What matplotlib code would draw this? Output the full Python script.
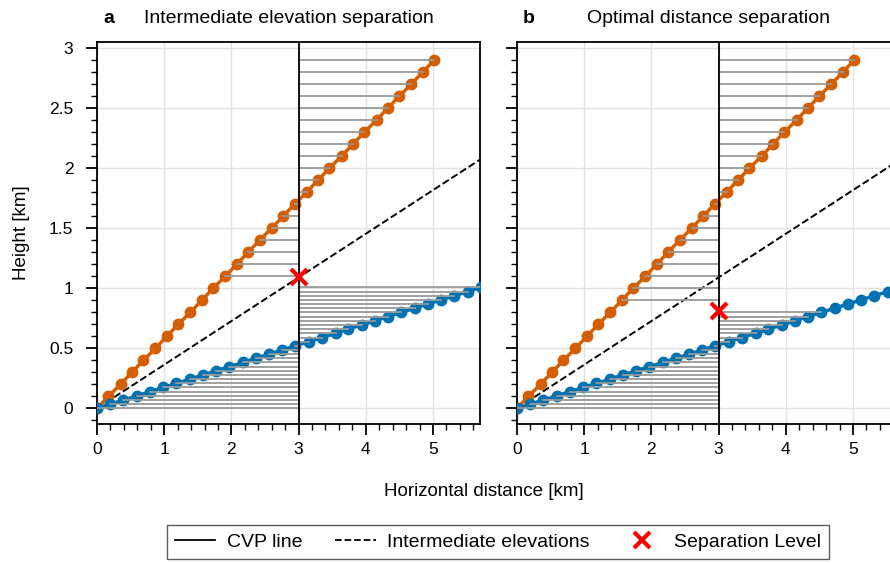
import numpy as np
import matplotlib
matplotlib.use("Agg")
import matplotlib.pyplot as plt
import matplotlib.ticker as mticker
from matplotlib.lines import Line2D

plt.rcParams['font.family'] = ['Liberation Sans', 'DejaVu Sans']
plt.rcParams['font.size'] = 13.5

# high elevation beam (orange)
orange_x = [0.00, 0.17, 0.35, 0.52, 0.69, 0.87, 1.04, 1.21, 1.39, 1.56,
            1.73, 1.91, 2.08, 2.25, 2.42, 2.60, 2.77, 2.94, 3.12, 3.29,
            3.46, 3.64, 3.81, 3.98, 4.16, 4.33, 4.50, 4.68, 4.85, 5.02]
orange_h = [0.0, 0.1, 0.2, 0.3, 0.4, 0.5, 0.6, 0.7, 0.8, 0.9,
            1.0, 1.1, 1.2, 1.3, 1.4, 1.5, 1.6, 1.7, 1.8, 1.9,
            2.0, 2.1, 2.2, 2.3, 2.4, 2.5, 2.6, 2.7, 2.8, 2.9]

# low elevation beam (blue)
blue_x = [0.00, 0.20, 0.39, 0.59, 0.79, 0.98, 1.18, 1.38, 1.58, 1.77,
          1.97, 2.17, 2.36, 2.56, 2.76, 2.95, 3.15, 3.35, 3.55, 3.74,
          3.94, 4.14, 4.33, 4.53, 4.73, 4.92, 5.12, 5.32, 5.52, 5.71]
blue_h = [0.000, 0.035, 0.069, 0.104, 0.139, 0.174, 0.208, 0.243, 0.278, 0.313,
          0.347, 0.382, 0.417, 0.451, 0.486, 0.521, 0.556, 0.590, 0.625, 0.660,
          0.695, 0.729, 0.764, 0.799, 0.834, 0.868, 0.903, 0.938, 0.972, 1.007]

# intermediate elevation (dashed)
mid_x = [0.0, 6.0]
mid_h = [0.0, 2.18]

cvp_x = 3.0
sep_levels = [1.09, 0.81]
panel_labels = ['a', 'b']
titles = ['Intermediate elevation separation', 'Optimal distance separation']

c_orange = '#d55e00'
c_blue = '#0072b2'
c_grey = '#999999'

fig = plt.figure(figsize=(8.9, 5.63), dpi=100)
ax_a = fig.add_axes([97/890, 1 - 424/563, 383/890, 382/563])
ax_b = fig.add_axes([517/890, 1 - 424/563, 383/890, 382/563])

for i, ax in enumerate([ax_a, ax_b]):
    sep = sep_levels[i]
    ax.grid(True, which='major', color='#e2e2e2', lw=1.0, zorder=0)
    ax.set_axisbelow(True)

    ax.plot(mid_x, mid_h, ls='--', color='black', lw=1.4, zorder=2)
    ax.plot(orange_x, orange_h, '-o', color=c_orange, lw=2.5, ms=7.5, zorder=3)
    ax.plot(blue_x, blue_h, '-o', color=c_blue, lw=2.5, ms=7.5, zorder=3)

    # projections onto the CVP line
    for x, h in zip(orange_x, orange_h):
        if h > sep:
            ax.plot([min(x, cvp_x), max(x, cvp_x)], [h, h], color=c_grey, lw=1.3, zorder=4)
    for x, h in zip(blue_x, blue_h):
        if h < sep:
            ax.plot([min(x, cvp_x), max(x, cvp_x)], [h, h], color=c_grey, lw=1.3, zorder=4)

    ax.axvline(cvp_x, color='black', lw=1.3, zorder=5)
    ax.plot([cvp_x], [sep], marker='x', color='#ff0000', ms=11, mew=3, ls='none', zorder=6)

    ax.set_xlim(0, 5.7)
    ax.set_ylim(-0.13, 3.05)
    ax.xaxis.set_major_locator(mticker.MultipleLocator(1))
    ax.xaxis.set_minor_locator(mticker.MultipleLocator(0.2))
    ax.yaxis.set_major_locator(mticker.MultipleLocator(0.5))
    ax.yaxis.set_minor_locator(mticker.MultipleLocator(0.1))
    ax.yaxis.set_major_formatter(mticker.FuncFormatter(lambda v, p: f'{v:g}'))
    ax.tick_params(which='major', direction='out', length=8, width=1.3, pad=5, labelsize=12.5)
    ax.tick_params(axis='y', which='major', pad=9)
    ax.tick_params(which='minor', direction='out', length=4, width=1.0)
    for s in ax.spines.values():
        s.set_linewidth(1.3)

    ax.text(6/383, 1.062, panel_labels[i], transform=ax.transAxes, fontweight='bold',
            fontsize=14, ha='left', va='center')
    ax.text(0.5, 1.062, titles[i], transform=ax.transAxes, fontsize=14,
            ha='center', va='center')

ax_b.tick_params(labelleft=False)
fig.text(22/890, 1 - 233/563, 'Height [km]', rotation=90, ha='center', va='center', fontsize=13.5)
fig.text(484/890, 1 - 491/563, 'Horizontal distance [km]', ha='center', va='center', fontsize=13.5)

handles = [Line2D([], [], color='black', lw=1.3),
           Line2D([], [], color='black', lw=1.3, ls='--'),
           Line2D([], [], color='#ff0000', marker='x', ms=11, mew=3, ls='none')]
leg = fig.legend(handles, ['CVP line', 'Intermediate elevations', 'Separation Level'],
                 loc='center', bbox_to_anchor=(498/890, 1 - 542/563), ncol=3,
                 frameon=True, fancybox=False, edgecolor='#333333', fontsize=14,
                 columnspacing=1.65, handlelength=2.1, handletextpad=0.6)
leg.get_frame().set_linewidth(1.0)

fig.savefig('out.png', dpi=100)
